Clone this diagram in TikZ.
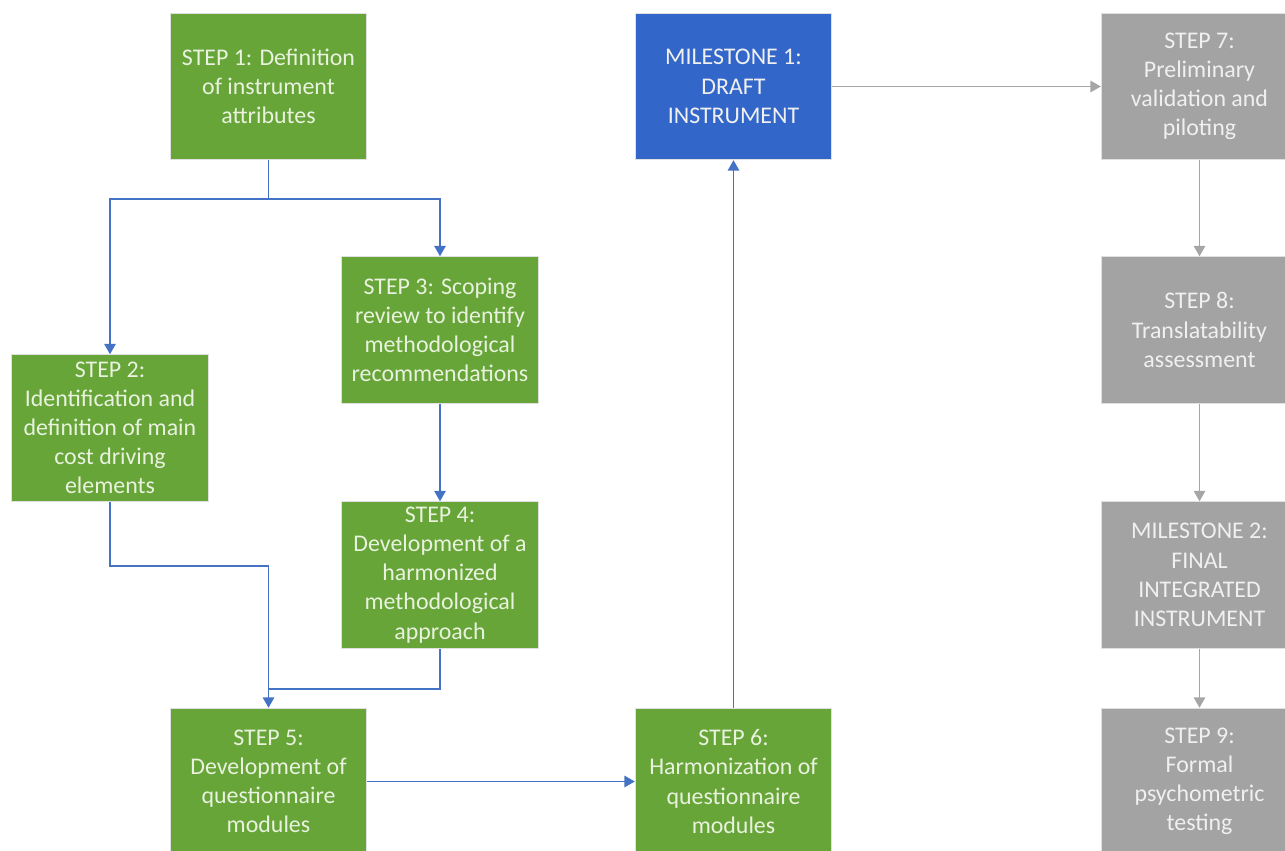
\documentclass[tikz,border=0pt]{standalone}
\usepackage{fontspec}
\setmainfont{Carlito}
\usetikzlibrary{arrows.meta}

\definecolor{stepgreen}{HTML}{67A538}
\definecolor{mileblue}{HTML}{3366C9}
\definecolor{laterstep}{HTML}{A3A3A3}
\definecolor{greentext}{HTML}{E8F2DE}
\definecolor{greytext}{HTML}{F0F0F0}
\definecolor{linkblue}{HTML}{4472C4}
\definecolor{linkgrey}{HTML}{A6A6A6}

\begin{document}
\begin{tikzpicture}[x=0.02cm,y=-0.02cm,
	box/.style={rectangle, draw=black!12, line width=0.5pt, minimum width=3.93cm, minimum height=2.93cm,
		align=center, inner sep=2pt, font=\fontsize{13.6}{16.6}\selectfont},
	greenbox/.style={box, fill=stepgreen, text=greentext},
	bluebox/.style={box, fill=mileblue, text=greytext},
	greybox/.style={box, fill=laterstep, text=greytext},
	blueline/.style={draw=linkblue, line width=1.1pt},
	bluearrow/.style={blueline, -{Triangle[length=6pt,width=6.5pt]}},
	greyarrow/.style={draw=linkgrey, line width=1.1pt, -{Triangle[length=6pt,width=6.5pt]}}]
	
	\useasboundingbox (0,0) rectangle (1285,851);
	\clip (0,0) rectangle (1285,851);
	
	% first phase
	\node[greenbox] (s_1) at (268.5,86.5) {STEP 1: Definition\\of instrument\\attributes};
	\node[greenbox] (s_2) at (110,428) {STEP 2:\\Identification and\\definition of main\\cost driving\\elements};
	\node[greenbox] (s_3) at (440,330) {STEP 3: Scoping\\review to identify\\methodological\\recommendations};
	\node[greenbox] (s_4) at (440,575) {STEP 4:\\Development of a\\harmonized\\methodological\\approach};
	\node[greenbox] (s_5) at (268.5,781.5) {STEP 5:\\Development of\\questionnaire\\modules};
	\node[greenbox] (s_6) at (733.5,781.5) {STEP 6:\\Harmonization of\\questionnaire\\modules};
	\node[bluebox] (m_1) at (733.5,86.5) {MILESTONE 1:\\DRAFT\\INSTRUMENT};
	
	% second phase
	\node[greybox] (s_7) at (1199.5,86.5) {STEP 7:\\Preliminary\\validation and\\piloting};
	\node[greybox] (s_8) at (1199.5,330) {STEP 8:\\Translatability\\assessment};
	\node[greybox] (m_2) at (1199.5,575) {MILESTONE 2:\\FINAL\\INTEGRATED\\INSTRUMENT};
	\node[greybox] (s_9) at (1199.5,781.5) {STEP 9:\\Formal\\psychometric\\testing};
	
	\coordinate (split) at (268.5,199);
	\coordinate (join) at (268.5,689);
	
	\draw[blueline] (s_1.south) -- (split);
	\draw[bluearrow] (split) -| (s_2.north);
	\draw[bluearrow] (split) -| (s_3.north);
	\draw[bluearrow] (s_3) -- (s_4);
	\draw[blueline] (s_2.south) -- ++(0,64) -| (join);
	\draw[blueline] (s_4.south) |- (join);
	\draw[bluearrow] (join) -- (s_5.north);
	\draw[bluearrow] (s_5) -- (s_6);
	\draw[bluearrow] (s_6) -- (m_1);
	
	\draw[greyarrow] (m_1) -- (s_7);
	\draw[greyarrow] (s_7) -- (s_8);
	\draw[greyarrow] (s_8) -- (m_2);
	\draw[greyarrow] (m_2) -- (s_9);
	
\end{tikzpicture}
\end{document}
